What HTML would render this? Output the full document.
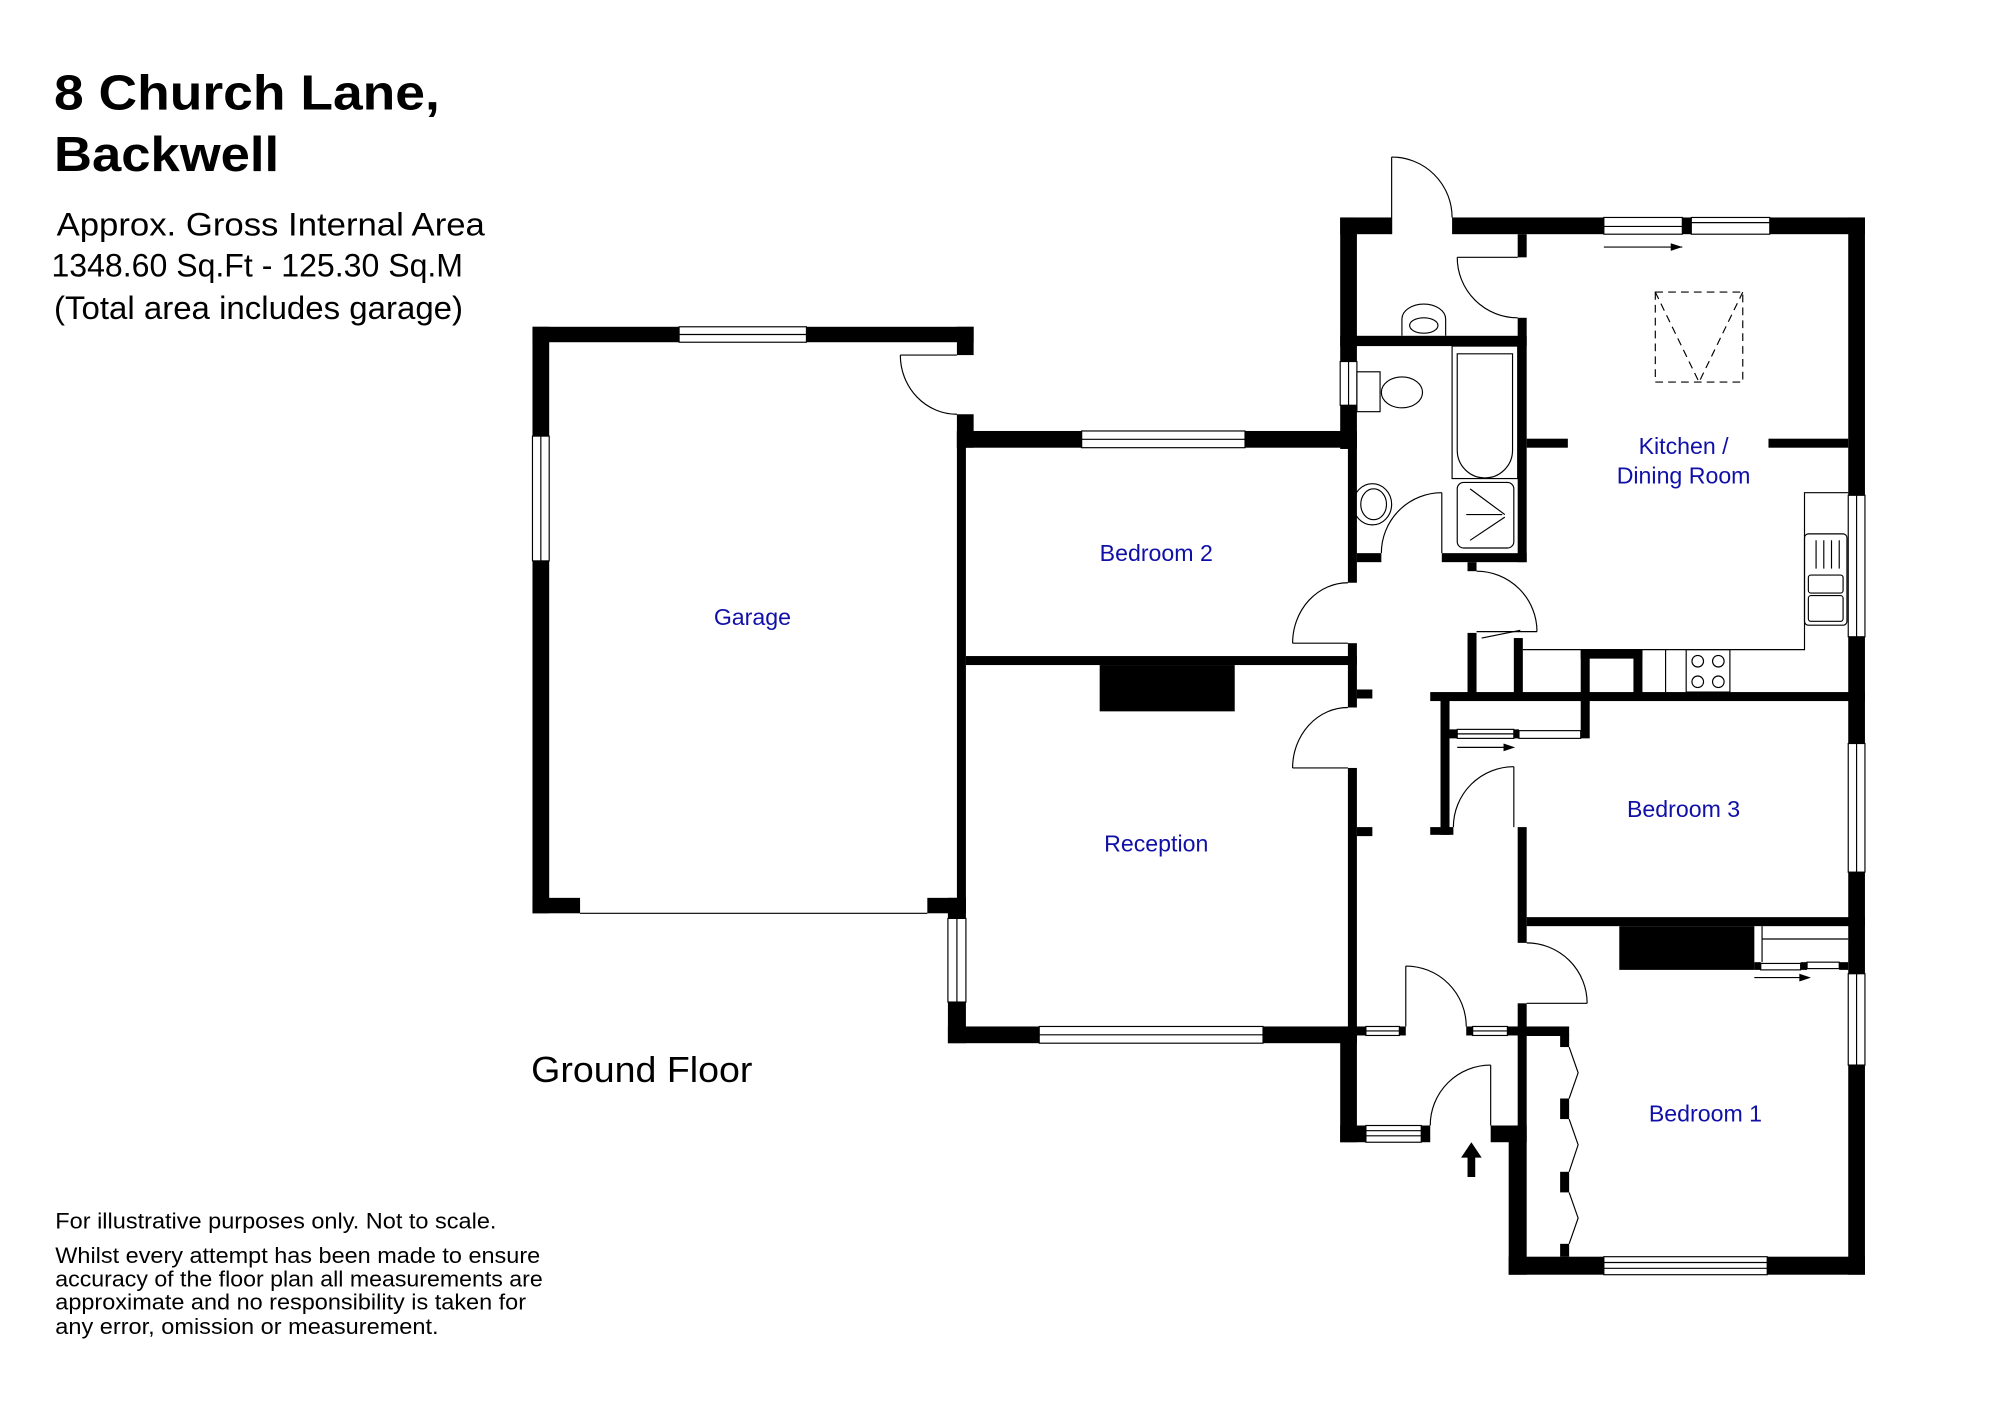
<!DOCTYPE html>
<html><head><meta charset="utf-8"><style>
html,body{margin:0;padding:0;background:#fff;}
svg{display:block;}
.t{font-family:"Liberation Sans",sans-serif;fill:#000;}
.r{font-family:"Liberation Sans",sans-serif;fill:#1010a8;font-size:18px;text-anchor:middle;}
.l{fill:none;stroke:#000;stroke-width:0.9;}
</style></head><body>
<svg width="2000" height="1415" viewBox="0 0 1555 1100" xmlns="http://www.w3.org/2000/svg">
<rect width="1555" height="1100" fill="#fff"/>
<text class="t" x="42" y="85" font-size="38" font-weight="bold" textLength="300" lengthAdjust="spacingAndGlyphs">8 Church Lane,</text>
<text class="t" x="42" y="133" font-size="38" font-weight="bold" textLength="175" lengthAdjust="spacingAndGlyphs">Backwell</text>
<text class="t" x="44" y="183" font-size="25" textLength="333" lengthAdjust="spacingAndGlyphs">Approx. Gross Internal Area</text>
<text class="t" x="40" y="215" font-size="25" textLength="320" lengthAdjust="spacingAndGlyphs">1348.60 Sq.Ft - 125.30 Sq.M</text>
<text class="t" x="42" y="248" font-size="25" textLength="318" lengthAdjust="spacingAndGlyphs">(Total area includes garage)</text>
<text class="t" x="413" y="841" font-size="28" textLength="172" lengthAdjust="spacingAndGlyphs">Ground Floor</text>
<text class="t" x="43" y="955" font-size="17" textLength="343" lengthAdjust="spacingAndGlyphs">For illustrative purposes only. Not to scale.</text>
<text class="t" x="43" y="982" font-size="17" textLength="377" lengthAdjust="spacingAndGlyphs">Whilst every attempt has been made to ensure</text>
<text class="t" x="43" y="1000" font-size="17" textLength="379" lengthAdjust="spacingAndGlyphs">accuracy of the floor plan all measurements are</text>
<text class="t" x="43" y="1018" font-size="17" textLength="366" lengthAdjust="spacingAndGlyphs">approximate and no responsibility is taken for</text>
<text class="t" x="43" y="1037" font-size="17" textLength="298" lengthAdjust="spacingAndGlyphs">any error, omission or measurement.</text>

<g fill="#000">
<!-- garage -->
<rect x="414" y="254" width="13" height="456"/>
<rect x="414" y="254" width="343" height="12"/>
<rect x="744" y="254" width="13" height="22"/>
<rect x="744" y="322" width="13" height="26"/>
<rect x="744" y="335" width="7" height="375"/>
<rect x="414" y="698" width="37" height="12"/>
<rect x="721" y="698" width="30" height="12"/>
<!-- bed2/reception -->
<rect x="744" y="335" width="311" height="13"/>
<rect x="751" y="510" width="304" height="7"/>
<rect x="855" y="517" width="105" height="36"/>
<rect x="737" y="698" width="14" height="113"/>
<rect x="737" y="798" width="318" height="13"/>
<rect x="1048" y="335" width="7" height="118"/>
<rect x="1048" y="500" width="7" height="50"/>
<rect x="1048" y="597" width="7" height="208"/>
<rect x="1055" y="536" width="12" height="7"/>
<rect x="1055" y="643" width="12" height="7"/>
<!-- utility/bath block -->
<rect x="1042" y="169" width="13" height="180"/>
<rect x="1042" y="169" width="40" height="13"/>
<rect x="1129" y="169" width="118" height="13"/>
<rect x="1308" y="169" width="7" height="13"/>
<rect x="1376" y="169" width="74" height="13"/>
<rect x="1437" y="169" width="13" height="822"/>
<rect x="1180" y="182" width="7" height="18"/>
<rect x="1180" y="247" width="7" height="190"/>
<rect x="1042" y="261" width="145" height="8"/>
<rect x="1055" y="430" width="19" height="7"/>
<rect x="1121" y="430" width="66" height="7"/>
<rect x="1141" y="437" width="7" height="7"/>
<rect x="1187" y="341" width="32" height="7"/>
<rect x="1375" y="341" width="62" height="7"/>
<!-- kitchen bottom -->
<rect x="1112" y="538" width="338" height="7"/>
<rect x="1141" y="492" width="7" height="50"/>
<rect x="1177" y="496" width="7" height="46"/>
<rect x="1229" y="505" width="48" height="7"/>
<rect x="1229" y="505" width="7" height="69"/>
<rect x="1270" y="505" width="7" height="37"/>
<!-- bed3 -->
<rect x="1120" y="541" width="7" height="108"/>
<rect x="1112" y="643" width="18" height="6"/>
<rect x="1127" y="567" width="6" height="7"/>
<rect x="1177" y="567" width="4" height="7"/>
<rect x="1180" y="643" width="7" height="90"/>
<rect x="1180" y="780" width="7" height="95"/>
<rect x="1187" y="713" width="263" height="7"/>
<rect x="1259" y="720" width="105" height="34"/>
<rect x="1364" y="748" width="5" height="6"/>
<rect x="1400" y="748" width="5" height="6"/>
<rect x="1430" y="748" width="7" height="6"/>
<!-- porch -->
<rect x="1048" y="798" width="14" height="7"/>
<rect x="1088" y="798" width="5" height="7"/>
<rect x="1140" y="798" width="5" height="7"/>
<rect x="1172" y="798" width="48" height="7"/>
<rect x="1042" y="798" width="13" height="90"/>
<rect x="1042" y="875" width="20" height="13"/>
<rect x="1105" y="875" width="7" height="13"/>
<rect x="1159" y="875" width="28" height="13"/>
<rect x="1173" y="875" width="14" height="116"/>
<rect x="1173" y="977" width="277" height="14"/>
<rect x="1213" y="805" width="7" height="9"/>
<rect x="1213" y="854" width="7" height="16"/>
<rect x="1213" y="911" width="7" height="16"/>
<rect x="1213" y="967" width="7" height="10"/>
<!-- entrance arrow -->
<polygon points="1136,900 1144,888 1152,900 1147,900 1147,915 1141,915 1141,900"/>
</g>

<!-- windows -->
<g fill="#fff" stroke="#000" stroke-width="0.9">
<rect x="528" y="254" width="99" height="12"/><line x1="528" y1="260" x2="627" y2="260"/>
<rect x="414" y="339" width="13" height="97"/><line x1="420.5" y1="339" x2="420.5" y2="436"/>
<rect x="841" y="335" width="127" height="13"/><line x1="841" y1="341.5" x2="968" y2="341.5"/>
<rect x="737" y="714" width="14" height="65"/><line x1="744" y1="714" x2="744" y2="779"/>
<rect x="808" y="798" width="174" height="13"/><line x1="808" y1="804.5" x2="982" y2="804.5"/>
<rect x="1042" y="281" width="13" height="34"/><line x1="1048.5" y1="281" x2="1048.5" y2="315"/>
<rect x="1247" y="169" width="61" height="13"/><line x1="1247" y1="176" x2="1308" y2="176"/>
<rect x="1315" y="169" width="61" height="13"/><line x1="1315" y1="173" x2="1376" y2="173"/>
<rect x="1437" y="385" width="13" height="110"/><line x1="1443.5" y1="385" x2="1443.5" y2="495"/>
<rect x="1437" y="578" width="13" height="100"/><line x1="1443.5" y1="578" x2="1443.5" y2="678"/>
<rect x="1437" y="757" width="13" height="71"/><line x1="1443.5" y1="757" x2="1443.5" y2="828"/>
<rect x="1247" y="977" width="127" height="14"/><line x1="1247" y1="981.5" x2="1374" y2="981.5"/><line x1="1247" y1="986" x2="1374" y2="986"/>
<rect x="1062" y="798" width="26" height="7"/><line x1="1062" y1="801.5" x2="1088" y2="801.5"/>
<rect x="1145" y="798" width="27" height="7"/><line x1="1145" y1="801.5" x2="1172" y2="801.5"/>
<rect x="1062" y="875" width="43" height="13"/><line x1="1062" y1="879" x2="1105" y2="879"/><line x1="1062" y1="883" x2="1105" y2="883"/>
<rect x="1133" y="567" width="44" height="7"/><line x1="1133" y1="570.5" x2="1177" y2="570.5"/>
<rect x="1181" y="568" width="48" height="6"/>
<rect x="1369" y="749" width="31" height="5"/>
<rect x="1405" y="748" width="25" height="5"/>
</g>

<g class="l">
<line x1="451" y1="710" x2="721" y2="710"/>
<line x1="700" y1="276" x2="744" y2="276"/><path d="M700,276 A44,46 0 0 0 744,322"/>
<line x1="1005" y1="500" x2="1048" y2="500"/><path d="M1048,453 A43,47 0 0 0 1005,500"/>
<line x1="1005" y1="597" x2="1048" y2="597"/><path d="M1048,550 A43,47 0 0 0 1005,597"/>
<line x1="1082" y1="182" x2="1082" y2="122"/><path d="M1082,122 A47,47 0 0 1 1129,169"/>
<line x1="1133" y1="200" x2="1180" y2="200"/><path d="M1133,200 A47,47 0 0 0 1180,247"/>
<line x1="1121" y1="383" x2="1121" y2="430"/><path d="M1121,383 A47,47 0 0 0 1074,430"/>
<path d="M1148,444 A47,47 0 0 1 1195,491"/><line x1="1148" y1="491" x2="1195" y2="491"/>
<line x1="1152" y1="496" x2="1182" y2="490"/>
<line x1="1247" y1="192" x2="1308" y2="192"/>
<line x1="1133" y1="581" x2="1170" y2="581"/>
<line x1="1364" y1="760" x2="1400" y2="760"/>
<line x1="1177" y1="643" x2="1177" y2="596"/><path d="M1177,596 A47,47 0 0 0 1130,643"/>
<path d="M1187,733 A47,47 0 0 1 1234,780"/><line x1="1187" y1="780" x2="1234" y2="780"/>
<line x1="1093" y1="798" x2="1093" y2="751"/><path d="M1093,751 A47,47 0 0 1 1140,798"/>
<line x1="1159" y1="875" x2="1159" y2="828"/><path d="M1159,828 A47,47 0 0 0 1112,875"/>
<polyline points="1220,814 1227,834 1220,854"/>
<polyline points="1220,870 1227,890 1220,911"/>
<polyline points="1220,927 1227,947 1220,967"/>
<line x1="1187" y1="805" x2="1220" y2="805"/>
<rect x="1287" y="227" width="68" height="70" stroke-dasharray="6,4"/>
<polyline points="1287,227 1321,297 1355,227" stroke-dasharray="6,4"/>
<path d="M1090,261 L1090,248 A16,11 0 0 1 1124,248 L1124,261"/><ellipse cx="1107" cy="253" rx="11" ry="6"/>
<rect x="1055" y="289" width="18" height="31"/><ellipse cx="1090" cy="305" rx="16" ry="12"/>
<ellipse cx="1067" cy="392" rx="15" ry="16"/><ellipse cx="1068" cy="392" rx="10" ry="12"/>
<rect x="1129" y="269" width="51" height="103"/>
<path d="M1133,275 L1176,275 L1176,350 A21,21 0 0 1 1133,350 Z"/>
<rect x="1133" y="375" width="44" height="51" rx="5"/>
<line x1="1143" y1="380" x2="1170" y2="400"/><line x1="1143" y1="420" x2="1170" y2="402"/><line x1="1140" y1="400" x2="1168" y2="400"/>
<polyline points="1437,383 1403,383 1403,505 1184,505"/>
<line x1="1275" y1="505" x2="1275" y2="538"/>
<line x1="1295" y1="505" x2="1295" y2="538"/>
<rect x="1311" y="505" width="34" height="33"/>
<circle cx="1320" cy="514" r="4.5"/><circle cx="1336" cy="514" r="4.5"/>
<circle cx="1320" cy="530" r="4.5"/><circle cx="1336" cy="530" r="4.5"/>
<rect x="1403" y="415" width="33" height="71" rx="3"/>
<rect x="1406" y="447" width="27" height="14" rx="2"/><rect x="1406" y="463" width="27" height="20" rx="2"/>
<line x1="1412" y1="420" x2="1412" y2="442"/><line x1="1418" y1="420" x2="1418" y2="442"/><line x1="1424" y1="420" x2="1424" y2="442"/><line x1="1430" y1="420" x2="1430" y2="442"/>
<line x1="1370" y1="720" x2="1370" y2="748"/><line x1="1370" y1="730" x2="1437" y2="730"/>
</g>
<polygon points="1308,192 1299,189 1299,195" fill="#000"/>
<polygon points="1178,581 1169,578 1169,584" fill="#000"/>
<polygon points="1408,760 1399,757 1399,763" fill="#000"/>

<text class="r" x="585" y="486">Garage</text>
<text class="r" x="899" y="436">Bedroom 2</text>
<text class="r" x="899" y="662">Reception</text>
<text class="r" x="1309" y="353">Kitchen /</text>
<text class="r" x="1309" y="376">Dining Room</text>
<text class="r" x="1309" y="635">Bedroom 3</text>
<text class="r" x="1326" y="872">Bedroom 1</text>
</svg>
</body></html>
